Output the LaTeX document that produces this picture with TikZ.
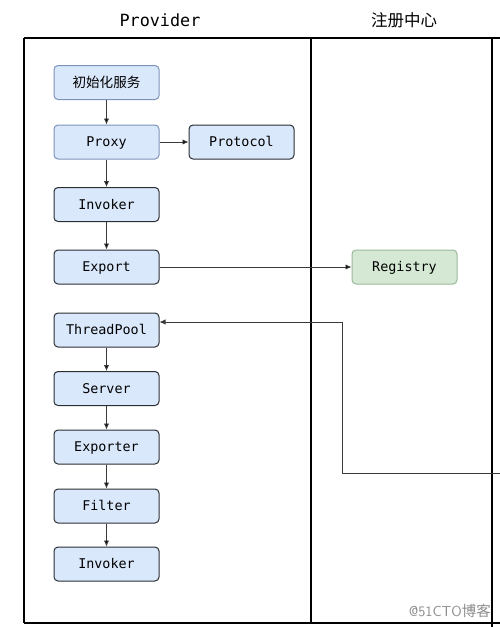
\documentclass[tikz,border=0pt]{standalone}
\usepackage{fontspec}
\setmonofont{DejaVu Sans Mono}
\newfontfamily\cjk{Noto Sans CJK SC}
\usetikzlibrary{arrows.meta}

\definecolor{bluefill}{HTML}{DAE8FC}
\definecolor{blueline}{HTML}{7C93B8}
\definecolor{greenfill}{HTML}{D5E8D4}
\definecolor{greenline}{HTML}{9CB89A}
\definecolor{darkline}{HTML}{2B2E33}
\definecolor{wire}{HTML}{3A3A3A}

\begin{document}
\begin{tikzpicture}[x=1pt,y=-1pt,>/.tip={Latex[length=6pt,width=5.5pt]},
	box/.style={draw=darkline,fill=bluefill,rounded corners=4pt,line width=1pt,minimum width=105pt,minimum height=34pt,inner sep=0pt,text height=9.5pt,text depth=0pt,font=\ttfamily\fontsize{13.4}{16}\selectfont},
	softbox/.style={box,draw=blueline},
	regbox/.style={box,draw=greenline,fill=greenfill},
	lane/.style={line width=1.5pt,draw=black},
	flow/.style={->,draw=wire,line width=0.9pt}]
	\useasboundingbox (0,0) rectangle (500,627);

	% lanes
	\draw[lane] (24,38) -- (500,38);
	\draw[lane] (24,623) -- (500,623);
	\draw[lane] (24,38) -- (24,623);
	\draw[lane] (311,38) -- (311,623);
	\draw[lane] (492,38) -- (492,627);
	\node (title1) at (160,20) {\ttfamily\fontsize{16.8}{20}\selectfont Provider};
	\node (title2) at (404,20) {\cjk\fontsize{16.5}{20}\selectfont 注册中心};

	% provider side
	\draw (106.5,82.5) node (init) [softbox] {\cjk\fontsize{13.6}{16}\selectfont 初始化服务};
	\draw (106.5,142) node (proxy) [softbox] {Proxy};
	\draw (241.5,142) node (protocol) [box] {Protocol};
	\draw (106.5,204.5) node (invoker) [box] {Invoker};
	\draw (106.5,267) node (export) [box] {Export};
	\draw (404.5,267) node (registry) [regbox] {Registry};
	\draw (106.5,330) node (pool) [box] {ThreadPool};
	\draw (106.5,388.5) node (server) [box] {Server};
	\draw (106.5,447) node (exporter) [box] {Exporter};
	\draw (106.5,506) node (filter) [box] {Filter};
	\draw (106.5,564) node (invokerb) [box] {Invoker};

	\coordinate (ext) at (500,473);
	\coordinate (turn) at (342,322);

	\path[flow] (init) edge (proxy);
	\path[flow] (proxy) edge (protocol);
	\path[flow] (proxy) edge (invoker);
	\path[flow] (invoker) edge (export);
	\path[flow] (export) edge (registry);
	\path[flow] (pool) edge (server);
	\path[flow] (server) edge (exporter);
	\path[flow] (exporter) edge (filter);
	\path[flow] (filter) edge (invokerb);
	\draw[flow] (ext) -| (turn) -- (turn -| pool.east);

	\node (mark) [anchor=east,inner sep=0pt,text=black!45,font=\sffamily\fontsize{14.5}{16}\selectfont] at (491,611) {@51CTO{\cjk 博客}};
\end{tikzpicture}
\end{document}
